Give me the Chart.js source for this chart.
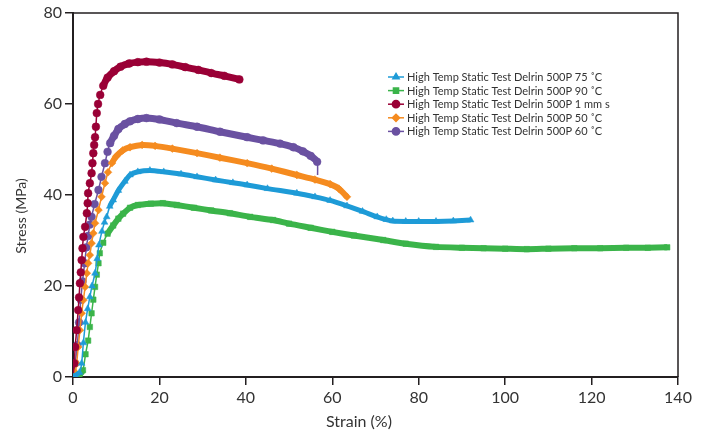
<!DOCTYPE html>
<html>
<head>
<meta charset="utf-8">
<script src="https://cdn.jsdelivr.net/npm/chart.js@4.4.1/dist/chart.umd.min.js"></script>
<style>
  body { margin: 0; background: #fff; }
</style>
</head>
<body>
<canvas id="stressChart" width="707" height="434"></canvas>
<script>
// strain (%) / stress (MPa)
var strain75 = [0,1.5,2,2.4,2.9,3.4,3.9,4.4,5.1,5.6,6,6.7,7.3,7.8,8.5,9.3,10.5,12,13.2,15,17.8,21,25,28.7,33,37,40.3,45,51.8,56,59.5,63.4,67,70.4,72.5,74,77,80,84,88,92];
var stress75 = [0,1,3,7.5,12,15,17.6,20,22.8,26,29,32,34,35.2,37.5,38.9,41,43,44.4,45.1,45.4,45.1,44.6,44,43.3,42.7,42.2,41.4,40.4,39.6,38.8,37.6,36.4,35.2,34.6,34.3,34.2,34.2,34.2,34.3,34.5];

var strain90 = [0,1.5,2.3,2.9,3.5,3.9,4.3,4.7,5.1,5.5,5.9,6.2,7,8,9.3,10.5,11.6,13.2,15,18,20.8,24,28,32,36.3,41,46.3,50,55,60,65,71.8,77,84,90,95,100,105,110,116,122,128,133,137.5];
var stress90 = [0,0.5,1.5,5,8,11,14,17,19.8,22.5,25,27.2,29.5,31.5,33.3,34.8,35.9,37.2,37.8,38.1,38.2,37.8,37.2,36.6,36,35.2,34.5,33.7,32.8,31.9,31.1,30.1,29.3,28.6,28.4,28.3,28.2,28.1,28.2,28.3,28.3,28.4,28.4,28.5];

var strain1mm = [0,0.3,0.5,0.85,1.2,1.4,1.6,1.8,2,2.2,2.4,2.8,3.2,3.4,3.5,3.9,4.3,4.5,4.7,4.9,5.1,5.3,5.5,5.8,6.3,7,8,9.5,11,13,15,17,20,23,26,29,32,35,38.5];
var stress1mm = [0,3,6.6,10.3,14.7,17.5,20.6,23,25.7,28.3,30.8,33,36,38.2,40.4,42.6,44.8,47,49.2,51,52.7,55,58,60,62,64,65.8,67.2,68.2,68.9,69.2,69.3,69.1,68.7,68.1,67.5,66.8,66.2,65.4];

var strain50 = [0,0.5,0.85,1.2,1.6,2,2.4,2.8,3.2,3.5,3.9,4.3,4.7,5.1,5.9,6.6,7.4,8.1,9,10,11.5,13.2,16,19,23,28.7,34,40.3,46,51.8,56,59.5,61.5,63.4];
var stress50 = [0,1,3,6.6,10.3,14,16.9,19.8,22.8,25,26.8,29.4,31.6,33.8,36.7,39.6,42.6,45,47,48.5,49.8,50.5,51,50.8,50.2,49.2,48.2,47,45.8,44.4,43.4,42.4,41.4,39.6];

var strain60 = [0,0.5,1,1.4,1.8,2.2,2.7,3.1,3.5,3.9,4.3,5,5.9,6.6,7.4,8,8.6,9.5,10.5,12,13.2,15,17,20,24,28.7,34,40.3,44,47.9,51,53.2,55,56.5,56.6];
var stress60 = [0,3,7,12,17,21,25,28.5,31,33.5,35.2,38,41.1,44,47,49.5,51.4,53,54.5,55.6,56.2,56.7,56.9,56.6,55.8,55,53.9,52.7,52,51.3,50.5,49.6,48.6,47.3,44.4];

var seriesNames = [
  'High Temp Static Test Delrin 500P 75 \u02daC',
  'High Temp Static Test Delrin 500P 90 \u02daC',
  'High Temp Static Test Delrin 500P 1 mm s',
  'High Temp Static Test Delrin 500P 50 \u02daC',
  'High Temp Static Test Delrin 500P 60 \u02daC'
];
var seriesColors = ['#1e9bd7', '#3bb44a', '#9a0036', '#f58b1f', '#6a51a1'];
var seriesMarkers = ['triangle', 'rect', 'circle', 'rectRot', 'circle'];
var bandWidths = [5, 6, 7, 6, 7];

var xTicks = [0, 20, 40, 60, 80, 100, 120, 140];
var yTicks = [0, 20, 40, 60, 80];
var xTitle = 'Strain (%)';
var yTitle = 'Stress (MPa)';

function toPoints(xs, ys) {
    var pts = [];
    for (var i = 0; i < xs.length; i++) {
        pts.push({x: xs[i], y: ys[i]});
    }
    return pts;
}

var allX = [strain75, strain90, strain1mm, strain50, strain60];
var allY = [stress75, stress90, stress1mm, stress50, stress60];

var datasets = [];
for (var i = 0; i < allX.length; i++) {
    (function(idx) {
        var n = allX[idx].length;
        datasets.push({
            label: seriesNames[idx],
            data: toPoints(allX[idx], allY[idx]),
            borderColor: seriesColors[idx],
            backgroundColor: seriesColors[idx],
            pointBackgroundColor: seriesColors[idx],
            pointBorderColor: seriesColors[idx],
            pointStyle: seriesMarkers[idx],
            pointRadius: function(c) {
                // purple curve ends with a thin drop line, no marker at its foot
                return (idx == 4 && c.dataIndex == n - 1) ? 0 : 3.9;
            },
            pointBorderWidth: 0.5,
            borderWidth: 1.5,
            tension: 0.2,
            segment: {
                borderWidth: function(c) {
                    var dx = Math.abs(c.p1.x - c.p0.x);
                    var dy = Math.abs(c.p1.y - c.p0.y);
                    return dy > 2 * dx ? 1.5 : bandWidths[idx];
                }
            }
        });
    })(i);
}

var fontFamily = 'Lato, "Open Sans", sans-serif';
var tickFont = {family: fontFamily, size: 16};

var frameAndLegend = {
    id: 'frameAndLegend',
    afterDraw: function(chart) {
        var ctx = chart.ctx;
        var a = chart.chartArea;
        ctx.save();
        ctx.strokeStyle = '#231f20';
        ctx.lineWidth = 1.5;
        ctx.beginPath();
        ctx.moveTo(a.left, a.top);
        ctx.lineTo(a.right, a.top);
        ctx.lineTo(a.right, a.bottom);
        ctx.stroke();

        // axis titles
        ctx.fillStyle = '#333';
        ctx.textAlign = 'center';
        ctx.textBaseline = 'middle';
        ctx.font = '16px ' + fontFamily;
        ctx.fillText(xTitle, 359, 422);
        ctx.save();
        ctx.translate(21, 216);
        ctx.rotate(-Math.PI / 2);
        ctx.font = '14px ' + fontFamily;
        ctx.fillText(yTitle, 0, 0);
        ctx.restore();

        // legend box inside plot
        var lx = 388, ly = 77, step = 13.6;
        ctx.font = '11px ' + fontFamily;
        ctx.textAlign = 'left';
        for (var i = 0; i < seriesNames.length; i++) {
            var y = ly + i * step;
            ctx.strokeStyle = seriesColors[i];
            ctx.fillStyle = seriesColors[i];
            ctx.lineWidth = 1.5;
            ctx.beginPath();
            ctx.moveTo(lx, y);
            ctx.lineTo(lx + 16, y);
            ctx.stroke();
            Chart.helpers.drawPoint(ctx, {pointStyle: seriesMarkers[i], radius: 3.6, rotation: 0, borderWidth: 0.5}, lx + 8, y);
            ctx.fillStyle = '#333';
            ctx.fillText(seriesNames[i], lx + 19, y + 0.5);
        }
        ctx.restore();
    }
};

new Chart(document.getElementById('stressChart'), {
    type: 'line',
    data: {datasets: datasets},
    options: {
        responsive: false,
        animation: false,
        layout: {padding: {top: 13, right: 29, left: 0, bottom: 0}},
        plugins: {
            legend: {display: false},
            tooltip: {enabled: false}
        },
        scales: {
            x: {
                type: 'linear',
                min: 0,
                max: 140,
                afterBuildTicks: function(s) { s.ticks = xTicks.map(function(v) { return {value: v}; }); },
                afterFit: function(s) { s.height = 57; },
                grid: {display: true, drawOnChartArea: false, drawTicks: true, tickLength: 8, color: '#231f20', lineWidth: 1.5},
                border: {display: true, color: '#231f20', width: 2},
                ticks: {color: '#333', font: tickFont, padding: 3, maxRotation: 0}
            },
            y: {
                type: 'linear',
                min: 0,
                max: 80,
                afterBuildTicks: function(s) { s.ticks = yTicks.map(function(v) { return {value: v}; }); },
                afterFit: function(s) { s.width = 73; },
                grid: {display: true, drawOnChartArea: false, drawTicks: true, tickLength: 8, color: '#231f20', lineWidth: 1.5},
                border: {display: true, color: '#231f20', width: 2},
                ticks: {color: '#333', font: tickFont, padding: 3}
            }
        }
    },
    plugins: [frameAndLegend]
});
</script>
</body>
</html>
